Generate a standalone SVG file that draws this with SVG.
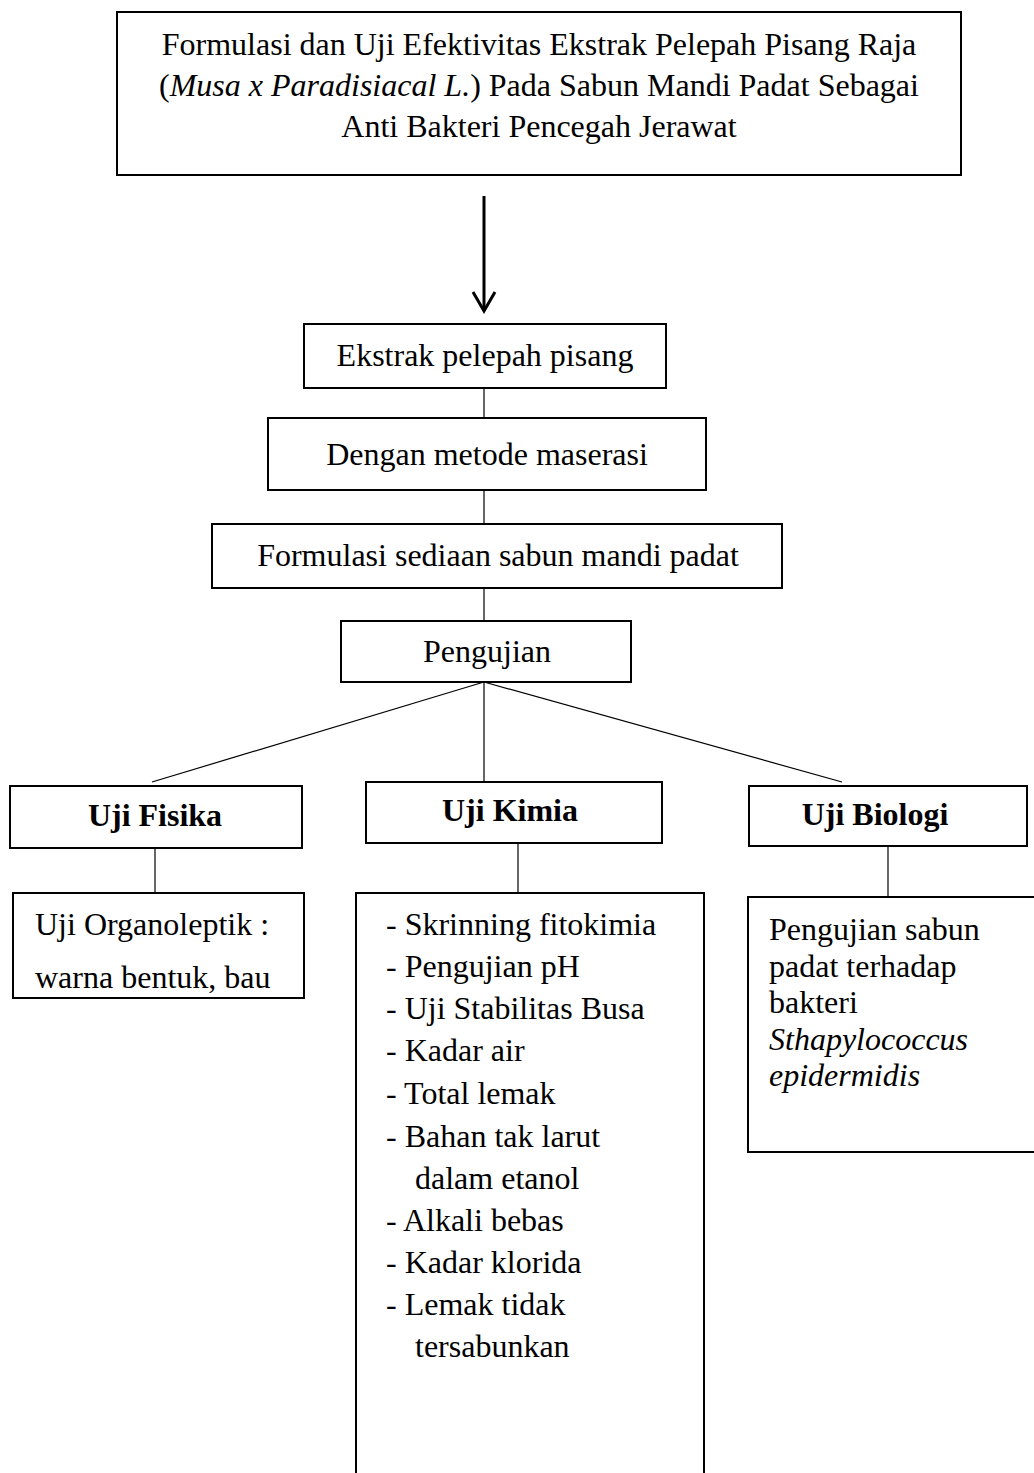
<svg xmlns="http://www.w3.org/2000/svg" width="1034" height="1473" viewBox="0 0 1034 1473">
<style>
.box{fill:#fff;stroke:#000;stroke-width:2}
.t{font-family:"Liberation Serif","Times New Roman",serif;font-size:32px;fill:#000}
.c{text-anchor:middle}
.b{font-weight:bold}
.i{font-style:italic}
.ln{stroke:#000;stroke-width:1.2;fill:none}
</style>
<rect width="1034" height="1473" fill="#fff"/>
<g id="title">
<rect class="box" x="117" y="12" width="844" height="163"/>
<text class="t c" x="539" y="55">Formulasi dan Uji Efektivitas Ekstrak Pelepah Pisang Raja</text>
<text class="t c" x="539" y="96">(<tspan class="i">Musa x Paradisiacal L.</tspan>) Pada Sabun Mandi Padat Sebagai</text>
<text class="t c" x="539" y="137">Anti Bakteri Pencegah Jerawat</text>
</g>
<g id="ekstrak">
<rect class="box" x="304" y="324" width="362" height="64"/>
<text class="t c" x="485" y="366">Ekstrak pelepah pisang</text>
</g>
<g id="maserasi">
<rect class="box" x="268" y="418" width="438" height="72"/>
<text class="t c" x="487" y="465">Dengan metode maserasi</text>
</g>
<g id="formulasi">
<rect class="box" x="212" y="524" width="570" height="64"/>
<text class="t c" x="498" y="566">Formulasi sediaan sabun mandi padat</text>
</g>
<g id="pengujian">
<rect class="box" x="341" y="621" width="290" height="61"/>
<text class="t c" x="487" y="662">Pengujian</text>
</g>
<g id="fisika">
<rect class="box" x="10" y="786" width="292" height="62"/>
<text class="t c b" x="155" y="826">Uji Fisika</text>
</g>
<g id="kimia">
<rect class="box" x="366" y="782" width="296" height="61"/>
<text class="t c b" x="510" y="821">Uji Kimia</text>
</g>
<g id="biologi">
<rect class="box" x="749" y="786" width="278" height="60"/>
<text class="t c b" x="875" y="825">Uji Biologi</text>
</g>
<g id="organoleptik">
<rect class="box" x="13" y="893" width="291" height="105"/>
<text class="t" x="35" y="935">Uji Organoleptik :</text>
<text class="t" x="35" y="988">warna bentuk, bau</text>
</g>
<g id="kimia-list">
<path class="box" d="M356,1475 V893 H704 V1475"/>
<text class="t" x="386" y="935">- Skrinning fitokimia</text>
<text class="t" x="386" y="977">- Pengujian pH</text>
<text class="t" x="386" y="1019">- Uji Stabilitas Busa</text>
<text class="t" x="386" y="1061">- Kadar air</text>
<text class="t" x="386" y="1104">- Total lemak</text>
<text class="t" x="386" y="1147">- Bahan tak larut</text>
<text class="t" x="415" y="1189">dalam etanol</text>
<text class="t" x="386" y="1231">- Alkali bebas</text>
<text class="t" x="386" y="1273">- Kadar klorida</text>
<text class="t" x="386" y="1315">- Lemak tidak</text>
<text class="t" x="415" y="1357">tersabunkan</text>
</g>
<g id="biologi-list">
<path class="box" d="M1036,897 H748 V1152 H1036"/>
<text class="t" x="769" y="940">Pengujian sabun</text>
<text class="t" x="769" y="977">padat terhadap</text>
<text class="t" x="769" y="1013">bakteri</text>
<text class="t i" x="769" y="1050">Sthapylococcus</text>
<text class="t i" x="769" y="1086">epidermidis</text>
</g>
<g id="connectors">
<line x1="484" y1="196" x2="484" y2="310" stroke="#000" stroke-width="3"/>
<polyline points="473,292 484,311 495,292" fill="none" stroke="#000" stroke-width="3"/>
<line class="ln" x1="484" y1="388" x2="484" y2="418"/>
<line class="ln" x1="484" y1="490" x2="484" y2="524"/>
<line class="ln" x1="484" y1="588" x2="484" y2="621"/>
<line class="ln" x1="484" y1="682" x2="152" y2="782"/>
<line class="ln" x1="484" y1="682" x2="484" y2="782"/>
<line class="ln" x1="484" y1="682" x2="842" y2="782"/>
<line class="ln" x1="155" y1="848" x2="155" y2="893"/>
<line class="ln" x1="518" y1="843" x2="518" y2="893"/>
<line class="ln" x1="888" y1="846" x2="888" y2="897"/>
</g>
</svg>
